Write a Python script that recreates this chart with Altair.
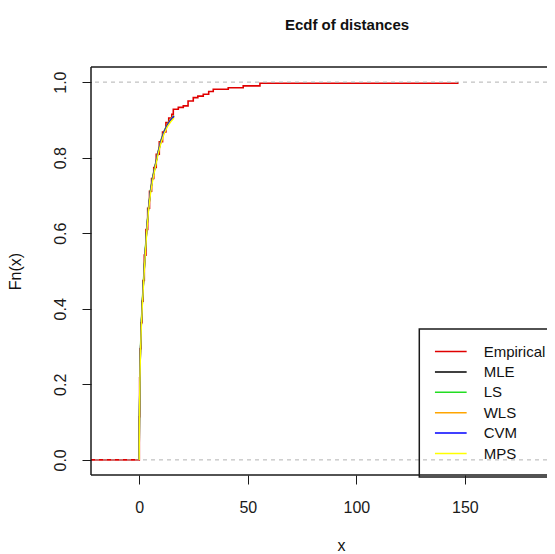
import altair as alt
import pandas as pd

# ---------------- data ----------------
title_text = "Ecdf of distances"
x_title = "x"
y_title = "Fn(x)"

series_names = ["Empirical", "MLE", "LS", "WLS", "CVM", "MPS"]
series_colors = ["#e00000", "#000000", "#22dd22", "#ffa500", "#0000ff", "#ffff00"]

# visible part of the plotting region (the reference is cut at the right)
x_domain = [-22.2, 187.8]
y_domain = [-0.04, 1.04]
x_ticks = [0, 50, 100, 150]
y_ticks = [0.0, 0.2, 0.4, 0.6, 0.8, 1.0]
ref_levels = [0.0, 1.0]

# empirical ecdf jump points and levels
emp_x = [0.05, 0.2, 0.45, 0.8, 1.25, 1.75, 2.35, 3.1, 3.9, 4.75, 5.7, 6.7, 7.85,
         9.25, 10.75, 12.3, 13.6, 15.0, 15.7, 18.0, 20.3, 22.5, 24.9, 27.0,
         29.5, 32.0, 34.1, 41.0, 47.9, 55.6, 146.7]
emp_y = [0.114, 0.217, 0.294, 0.363, 0.42, 0.475, 0.542, 0.61, 0.666, 0.711,
         0.745, 0.774, 0.809, 0.842, 0.868, 0.893, 0.905, 0.915, 0.928, 0.933,
         0.937, 0.950, 0.959, 0.963, 0.968, 0.975, 0.981, 0.985, 0.990, 0.997, 1.0]

# fitted distribution functions
fit_x = [0.0, 0.1, 0.3, 0.6, 1.0, 1.5, 2.0, 2.7, 3.5, 4.3, 5.2, 6.2, 7.2, 8.5,
         10.0, 11.5, 13.0, 14.5, 16.0]
mle_y = [0.0, 0.10, 0.21, 0.29, 0.36, 0.42, 0.47, 0.54, 0.61, 0.665, 0.71, 0.745,
         0.772, 0.808, 0.842, 0.868, 0.886, 0.899, 0.909]
ls_y = [0.0, 0.11, 0.22, 0.30, 0.37, 0.43, 0.48, 0.55, 0.615, 0.67, 0.715, 0.75,
        0.776, 0.812, 0.846, 0.871, 0.889, 0.902, 0.912]
wls_y = [0.0, 0.105, 0.215, 0.295, 0.365, 0.425, 0.475, 0.545, 0.612, 0.668,
         0.713, 0.748, 0.775, 0.811, 0.845, 0.870, 0.888, 0.901, 0.911]
cvm_y = [0.0, 0.10, 0.21, 0.292, 0.362, 0.422, 0.472, 0.542, 0.611, 0.666, 0.711,
         0.746, 0.773, 0.809, 0.843, 0.869, 0.887, 0.900, 0.910]
mps_y = [0.0, 0.095, 0.205, 0.285, 0.355, 0.415, 0.465, 0.535, 0.605, 0.66, 0.705,
         0.74, 0.768, 0.804, 0.838, 0.864, 0.882, 0.895, 0.905]
fit_values = {"MLE": mle_y, "LS": ls_y, "WLS": wls_y, "CVM": cvm_y, "MPS": mps_y}

# ---------------- tables ----------------
emp_df = pd.DataFrame({
    "x": [x_domain[0]] + emp_x,
    "y": [0.0] + emp_y,
    "series": "Empirical",
})
ref_df = pd.DataFrame({"level": ref_levels})
frame_h_df = pd.DataFrame({"level": y_domain})      # bottom and top of the box
frame_v_df = pd.DataFrame({"pos": [x_domain[0]]})   # left side of the box

FONT = "Liberation Sans"
INK = "#1a1a1a"

x_scale = alt.Scale(domain=x_domain, nice=False, zero=False)
y_scale = alt.Scale(domain=y_domain, nice=False, zero=False)

x_enc = alt.X("x:Q", scale=x_scale,
              axis=alt.Axis(values=x_ticks, title=x_title, labelPadding=15,
                            titleX=250, titleY=70, titleBaseline="middle",
                            titleAlign="center"))
y_enc = alt.Y("y:Q", scale=y_scale,
              axis=alt.Axis(values=y_ticks, format=".1f", title=y_title,
                            labelAngle=270, labelAlign="center",
                            labelBaseline="bottom", labelPadding=14,
                            titleAngle=270, titleX=-76, titleY=204,
                            titleAlign="center", titleBaseline="middle"))
color_enc = alt.Color(
    "series:N",
    scale=alt.Scale(domain=series_names, range=series_colors),
    legend=alt.Legend(title=None, orient="none", legendX=328.3, legendY=262,
                      symbolType="M-3,0H3", symbolSize=111.7,
                      symbolStrokeWidth=1.5, symbolOffset=9, labelOffset=25.4,
                      padding=15, rowPadding=4.4, labelFontSize=15,
                      labelFont=FONT, labelColor="#111111",
                      strokeColor=INK, cornerRadius=0),
)

emp_layer = alt.Chart(emp_df).mark_line(
    interpolate="step-after", strokeWidth=1.6
).encode(x=x_enc, y=y_enc, color=color_enc)

ref_layer = alt.Chart(ref_df).mark_rule(
    color="#b3b3b3", strokeDash=[4, 4], strokeWidth=1
).encode(y=alt.Y("level:Q", scale=y_scale))

frame_h = alt.Chart(frame_h_df).mark_rule(color=INK, strokeWidth=1.5).encode(
    y=alt.Y("level:Q", scale=y_scale))
frame_v = alt.Chart(frame_v_df).mark_rule(color=INK, strokeWidth=1.5).encode(
    x=alt.X("pos:Q", scale=x_scale))

fit_layers = []
for name in ["MLE", "LS", "WLS", "CVM", "MPS"]:
    df = pd.DataFrame({"x": fit_x, "y": fit_values[name], "series": name})
    fit_layers.append(
        alt.Chart(df).mark_line(strokeWidth=1.4).encode(x=x_enc, y=y_enc, color=color_enc)
    )

chart = alt.layer(emp_layer, ref_layer, *fit_layers, frame_h, frame_v).properties(
    width=456,
    height=408,
    padding={"left": 83, "top": 59, "right": 0, "bottom": 82},
    autosize=alt.AutoSizeParams(type="none"),
    title=alt.TitleParams(title_text, font=FONT, fontSize=15, fontWeight="bold",
                          anchor="middle", frame="group", dx=28, offset=21,
                          baseline="alphabetic", color="#111111"),
).configure_view(
    stroke=None
).configure_axis(
    labelFont=FONT, labelFontSize=16, labelColor=INK,
    tickColor=INK, tickSize=9, tickWidth=1, domain=False, grid=False,
    titleFont=FONT, titleFontSize=16, titleFontWeight="normal", titleColor="#111111",
).configure_legend(
    strokeWidth=1.5
)

chart.save("out.html", embed_options={"renderer": "svg", "actions": False})
